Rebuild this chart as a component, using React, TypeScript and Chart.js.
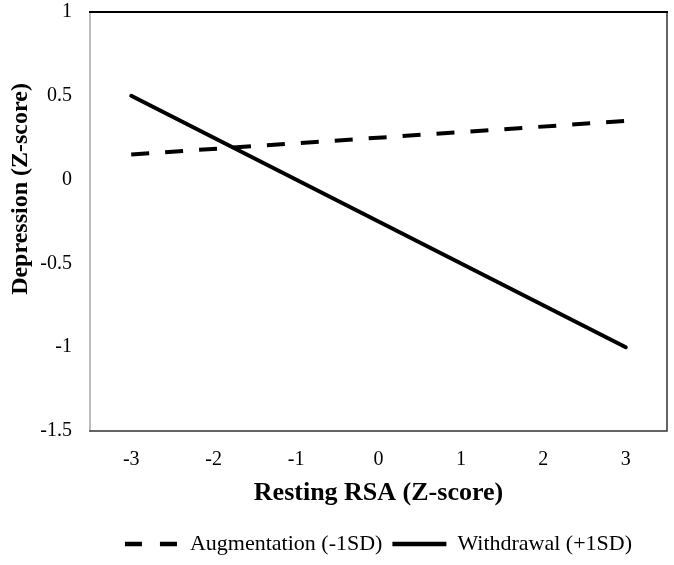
import React, { useEffect, useRef } from "react";
import { Chart, registerables } from "chart.js";

Chart.register(...registerables);

const categories = ["-3", "-2", "-1", "0", "1", "2", "3"];
const augmentation = [0.15, null, null, null, null, null, 0.35];
const withdrawal = [0.5, null, null, null, null, null, -1];
const yMin = -1.5;
const yMax = 1;
const yStep = 0.5;
const seriesNames = ["Augmentation (-1SD)", "Withdrawal (+1SD)"];
const xTitle = "Resting RSA (Z-score)";
const yTitle = "Depression (Z-score)";

const SERIF = "'Liberation Serif', 'Times New Roman', serif";

const boxPlugin = {
  id: "plotBox",
  beforeDatasetsDraw(chart: any) {
    const { ctx, chartArea: a } = chart;
    ctx.save();
    ctx.lineCap = "square";
    ctx.strokeStyle = "#a6a6a6";
    ctx.lineWidth = 1.5;
    ctx.beginPath();
    ctx.moveTo(a.left, a.top);
    ctx.lineTo(a.left, a.bottom);
    ctx.stroke();
    ctx.strokeStyle = "#333333";
    ctx.beginPath();
    ctx.moveTo(a.left, a.bottom);
    ctx.lineTo(a.right, a.bottom);
    ctx.lineTo(a.right, a.top);
    ctx.stroke();
    ctx.strokeStyle = "#000000";
    ctx.lineWidth = 2;
    ctx.beginPath();
    ctx.moveTo(a.left, a.top);
    ctx.lineTo(a.right, a.top);
    ctx.stroke();
    ctx.restore();
  },
};

const yTitlePlugin = {
  id: "yTitleText",
  afterDraw(chart: any) {
    const { ctx } = chart;
    ctx.save();
    ctx.translate(21, 189);
    ctx.rotate(-Math.PI / 2);
    ctx.font = `bold 24px ${SERIF}`;
    ctx.fillStyle = "#000";
    ctx.textAlign = "center";
    ctx.textBaseline = "middle";
    ctx.fillText(yTitle, 0, 0);
    ctx.restore();
  },
};

export default function App() {
  const canvasRef = useRef<HTMLCanvasElement | null>(null);

  useEffect(() => {
    document.body.style.margin = "0";
    const canvas = canvasRef.current;
    if (!canvas) return;
    const chart = new Chart(canvas, {
      type: "line",
      data: {
        labels: categories,
        datasets: [
          {
            label: seriesNames[0],
            data: augmentation,
            borderColor: "#000",
            backgroundColor: "#000",
            borderWidth: 4,
            borderDash: [18, 16],
            borderCapStyle: "butt",
            pointRadius: 0,
            spanGaps: true,
            tension: 0,
          },
          {
            label: seriesNames[1],
            data: withdrawal,
            borderColor: "#000",
            backgroundColor: "#000",
            borderWidth: 4,
            borderCapStyle: "round",
            pointRadius: 0,
            spanGaps: true,
            tension: 0,
          },
        ],
      },
      options: {
        animation: false,
        responsive: false,
        maintainAspectRatio: false,
        layout: { padding: { top: 12, right: 7, left: 0, bottom: 0 } },
        plugins: {
          tooltip: { enabled: false },
          legend: {
            display: true,
            position: "bottom",
            fullSize: false,
            labels: {
              usePointStyle: true,
              pointStyle: "line",
              pointStyleWidth: 54,
              padding: 10,
              color: "#000",
              font: { family: SERIF, size: 22 },
              generateLabels(chart: any) {
                const items = (Chart as any).defaults.plugins.legend.labels.generateLabels(chart);
                items.forEach((it: any) => {
                  const ds = chart.data.datasets[it.datasetIndex];
                  it.lineDash = ds.borderDash ? [17, 18] : [];
                  it.lineWidth = 4.5;
                  it.lineCap = "butt";
                  it.strokeStyle = "#000";
                });
                return items;
              },
            },
          },
        },
        scales: {
          x: {
            type: "category",
            offset: true,
            grid: { display: false, drawTicks: false },
            border: { display: false },
            ticks: {
              color: "#000",
              padding: 17,
              font: { family: SERIF, size: 20 },
              maxRotation: 0,
            },
            title: {
              display: true,
              text: xTitle,
              color: "#000",
              font: { family: SERIF, size: 26, weight: "bold" },
              padding: { top: 0, bottom: 14 },
            },
            afterFit(scale: any) {
              scale.height = 92;
              scale.paddingLeft = 0;
              scale.paddingRight = 0;
            },
          },
          y: {
            type: "linear",
            min: yMin,
            max: yMax,
            grid: { display: false, drawTicks: false },
            border: { display: false },
            ticks: {
              stepSize: yStep,
              color: "#000",
              padding: 18,
              font: { family: SERIF, size: 20 },
              callback: (v: any) => String(Number(v)),
            },
            afterFit(scale: any) {
              scale.width = 90;
              scale.paddingTop = 0;
              scale.paddingBottom = 0;
            },
          },
        },
      },
      plugins: [boxPlugin, yTitlePlugin],
    });
    return () => chart.destroy();
  }, []);

  return (
    <div style={{ width: 674, height: 565, position: "relative", background: "#fff" }}>
      <canvas ref={canvasRef} width={674} height={565} style={{ display: "block" }} />
    </div>
  );
}
